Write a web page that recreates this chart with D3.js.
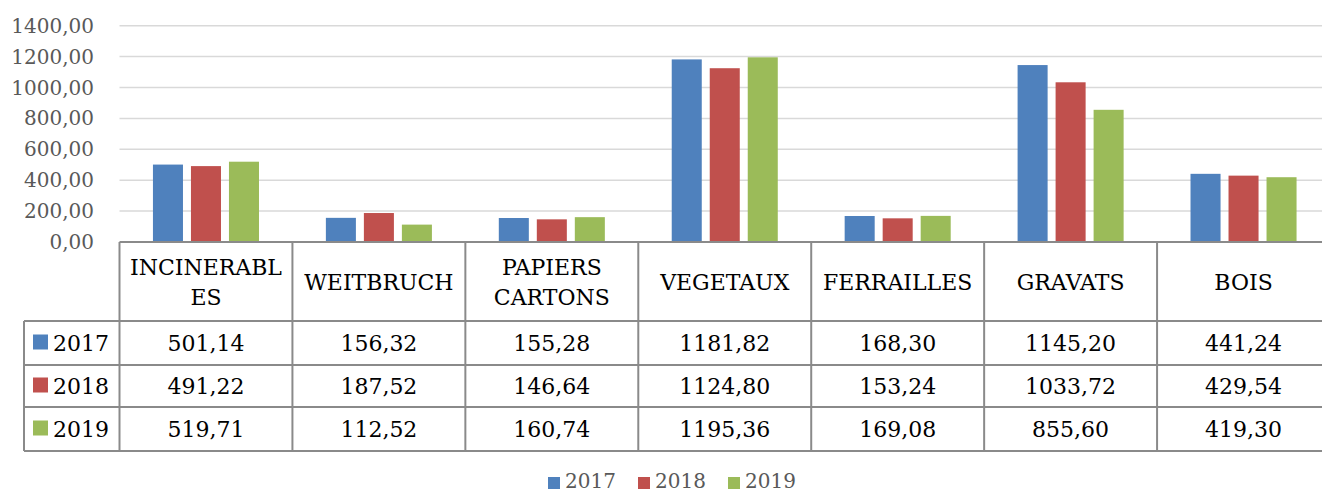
<!DOCTYPE html>
<html>
<head>
<meta charset="utf-8">
<script src="https://cdn.jsdelivr.net/npm/d3@7"></script>
<style>
  body { margin: 0; background: #fff; }
  text { font-family: "DejaVu Serif", serif; }
</style>
</head>
<body>
<script>
const categories = [["INCINERABL", "ES"], ["WEITBRUCH"], ["PAPIERS", "CARTONS"], ["VEGETAUX"], ["FERRAILLES"], ["GRAVATS"], ["BOIS"]];
const years = ["2017", "2018", "2019"];
const values2017 = [501.14, 156.32, 155.28, 1181.82, 168.30, 1145.20, 441.24];
const values2018 = [491.22, 187.52, 146.64, 1124.80, 153.24, 1033.72, 429.54];
const values2019 = [519.71, 112.52, 160.74, 1195.36, 169.08, 855.60, 419.30];
const yTicks = [0, 200, 400, 600, 800, 1000, 1200, 1400];
const colors = ["#4f81bd", "#c0504d", "#9bbb59"];

const series = [values2017, values2018, values2019];
const W = 1322, H = 494;
const plotLeft = 119.5, plotRight = 1330, plotTop = 25.7, plotBottom = 242;
const rowY = [242, 321, 365, 407, 451];
const fmt = v => v.toFixed(2).replace(".", ",");

const svg = d3.select("body").append("svg").attr("width", W).attr("height", H);

const x = d3.scaleBand().domain(d3.range(categories.length)).range([plotLeft, plotRight]);
const xs = d3.scaleBand().domain(years).range([0, x.bandwidth()])
  .paddingInner(0.21).paddingOuter(0.88);
const y = d3.scaleLinear().domain([0, 1400]).range([plotBottom, plotTop]);

// grid
svg.append("g").selectAll("line").data(yTicks.slice(1)).join("line")
  .attr("x1", plotLeft).attr("x2", plotRight)
  .attr("y1", d => y(d)).attr("y2", d => y(d))
  .attr("stroke", "#d9d9d9").attr("stroke-width", 1.5);

// y labels
svg.append("g").selectAll("text").data(yTicks).join("text")
  .attr("x", 94).attr("y", d => y(d) + 7)
  .attr("text-anchor", "end")
  .attr("font-size", 20).attr("fill", "#595959")
  .text(d => fmt(d));

// bars
years.forEach(function(yr, s) {
  svg.append("g").selectAll("rect").data(series[s]).join("rect")
    .attr("x", (d, i) => x(i) + xs(yr))
    .attr("y", d => y(d))
    .attr("width", xs.bandwidth())
    .attr("height", d => plotBottom - y(d))
    .attr("fill", colors[s]);
});

// data table lines
const line = (x1, y1, x2, y2) => svg.append("line")
  .attr("x1", x1).attr("y1", y1).attr("x2", x2).attr("y2", y2)
  .attr("stroke", "#8a8a8a").attr("stroke-width", 2);

line(plotLeft, rowY[0], plotRight, rowY[0]);
for (let r = 1; r < rowY.length; r++) line(24, rowY[r], plotRight, rowY[r]);
line(24, rowY[1], 24, rowY[4]);
d3.range(categories.length + 1).forEach(i => {
  const xx = i < categories.length ? x(i) : plotRight;
  line(xx, rowY[0], xx, rowY[4]);
});

// header
categories.forEach(function(lines, i) {
  const cx = x(i) + x.bandwidth() / 2;
  const mid = (rowY[0] + rowY[1]) / 2;
  const start = mid + 8 - (lines.length - 1) * 15;
  lines.forEach(function(t, k) {
    svg.append("text")
      .attr("x", cx).attr("y", start + k * 30)
      .attr("text-anchor", "middle").attr("font-size", 22).attr("fill", "#000")
      .text(t);
  });
});

// rows
years.forEach(function(yr, s) {
  const mid = (rowY[s + 1] + rowY[s + 2]) / 2;
  svg.append("rect").attr("x", 33).attr("y", mid - 8.5)
    .attr("width", 15).attr("height", 15).attr("fill", colors[s]);
  svg.append("text").attr("x", 53).attr("y", mid + 8)
    .attr("font-size", 22).attr("fill", "#000").text(yr);
  svg.append("g").selectAll("text").data(series[s]).join("text")
    .attr("x", (d, i) => x(i) + x.bandwidth() / 2)
    .attr("y", mid + 8)
    .attr("text-anchor", "middle").attr("font-size", 22).attr("fill", "#000")
    .text(d => fmt(d));
});

// legend
const legX = [548, 638, 728];
years.forEach(function(yr, s) {
  svg.append("rect").attr("x", legX[s]).attr("y", 477)
    .attr("width", 12).attr("height", 12).attr("fill", colors[s]);
  svg.append("text").attr("x", legX[s] + 17).attr("y", 488)
    .attr("font-size", 20).attr("fill", "#595959").text(yr);
});
</script>
</body>
</html>
